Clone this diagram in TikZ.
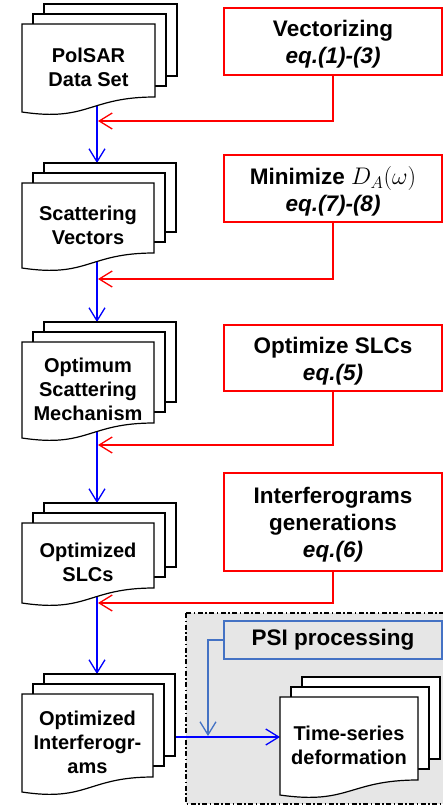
\RequirePackage{fix-cm}
\documentclass[tikz,border=0pt]{standalone}
\usepackage{fontspec}
\setmainfont{Liberation Sans}
\usepackage{tikz}
\usetikzlibrary{arrows.meta, backgrounds}

\definecolor{psiblue}{RGB}{68,114,196}
\definecolor{panelgray}{RGB}{230,230,230}

\tikzset{
  docline/.style={draw=black, line width=1.2pt, fill=white},
  doctext/.style={align=center, font=\fontsize{20}{24}\selectfont\bfseries},
  stepbox/.style={draw=red, line width=1.6pt, minimum width=218pt},
  steptext/.style={align=center, yshift=-3pt, font=\fontsize{22.5}{27}\selectfont\bfseries},
  psibox/.style={draw=psiblue, line width=1.4pt, minimum width=218pt, minimum height=38pt,
    align=center, font=\fontsize{22.5}{27}\selectfont\bfseries},
  flow/.style={draw=blue, line width=1.3pt, -{Straight Barb[length=13pt,width=16pt]}},
  feed/.style={draw=red, line width=1.3pt, -{Straight Barb[length=13pt,width=16pt]}},
  psiflow/.style={draw=psiblue, line width=1.3pt, -{Straight Barb[length=13pt,width=16pt]}},
}

% stack of documents: name, left, top, width, height (to right bottom), text
\newcommand{\docstack}[6]{%
  \foreach \k in {2,1} {
    \draw[docline] ({#2+11*\k},{#3-10*\k}) rectangle ({#2+#4+11*\k},{#3+#5-1-10*\k});
  }
  \draw[docline] (#2,#3) -- ({#2+#4},#3) -- ({#2+#4},{#3+#5})
    .. controls ({#2+0.5*#4},{#3+#5}) and ({#2+0.5*#4},{#3+#5+25}) .. (#2,{#3+#5+15}) -- cycle;
  \node[doctext] (#1) at ({#2+#4/2},{#3+#5/2+7}) {#6};
  \coordinate (#1-b) at ({#2+75},{#3+#5+4});
  \coordinate (#1-t) at ({#2+75},{#3-20});
  \coordinate (#1-in) at (#2,{#3+43});
  \coordinate (#1-out) at ({#2+#4+22},{#3+43});
}

\begin{document}
\begin{tikzpicture}[x=1pt, y=-1pt]

        \useasboundingbox (0,0) rectangle (443,806);

        %=====================
        % Document stacks
        %=====================
        \docstack{pol}{22}{24}{133}{73}{PolSAR\\Data Set}
        \docstack{scat}{22}{183}{132}{70}{Scattering\\Vectors}
        \docstack{osm}{22}{342}{132}{81}{Optimum\\Scattering\\Mechanism}
        \docstack{slc}{22}{523}{132}{65}{Optimized\\SLCs}
        \docstack{ifg}{22}{694}{131}{83}{Optimized\\Interferogr-\\ams}
        \docstack{tsd}{280}{697}{138}{83}{Time-series\\deformation}

        %=====================
        % Processing steps
        %=====================
        \node[stepbox, minimum height=67pt,
        label={[steptext]center:{Vectorizing\\\textit{eq.(1)-(3)}}}] (vec) at (333,41.5) {};
        \node[stepbox, minimum height=67pt,
        label={[steptext]center:{Minimize {\fontsize{24}{27}\selectfont$D_A(\omega)$}\\\textit{eq.(7)-(8)}}}] (mind) at (333,188.5) {};
        \node[stepbox, minimum height=66pt,
        label={[steptext]center:{Optimize SLCs\\\textit{eq.(5)}}}] (opt) at (333,358) {};
        \node[stepbox, minimum height=98pt,
        label={[steptext]center:{Interferograms\\generations\\\textit{eq.(6)}}}] (ifgen) at (333,522) {};
        \node[psibox] (psi) at (333,640) {PSI processing};

        % feed-in points on the main flow
        \coordinate (fb1) at (98,121);
        \coordinate (fb2) at (98,279);
        \coordinate (fb3) at (98,445);
        \coordinate (fb4) at (98,603);
        \coordinate (join) at (208,736);

        \begin{scope}[on background layer]
        %=====================
        % PSI panel
        %=====================
        \fill[panelgray] (186,613) rectangle (446,804);
        \draw[line width=1.3pt, dash pattern=on 5pt off 2.5pt on 1.5pt off 2.5pt]
        (186,613) rectangle (446,804);

        %=====================
        % Main flow
        %=====================
        \draw[flow] (pol-b) -- (scat-t);
        \draw[flow] (scat-b) -- (osm-t);
        \draw[flow] (osm-b) -- (slc-t);
        \draw[flow] (slc-b) -- (ifg-t);
        \draw[flow] (ifg-out) -- (ifg-out -| tsd-in);

        %=====================
        % Step feeds
        %=====================
        \draw[feed] (vec.south) |- (fb1);
        \draw[feed] (mind.south) |- (fb2);
        \draw[feed] (opt.south) |- (fb3);
        \draw[feed] (ifgen.south) |- (fb4);
        \draw[psiflow] (psi.west) -| (join);
        \end{scope}

\end{tikzpicture}
\end{document}
